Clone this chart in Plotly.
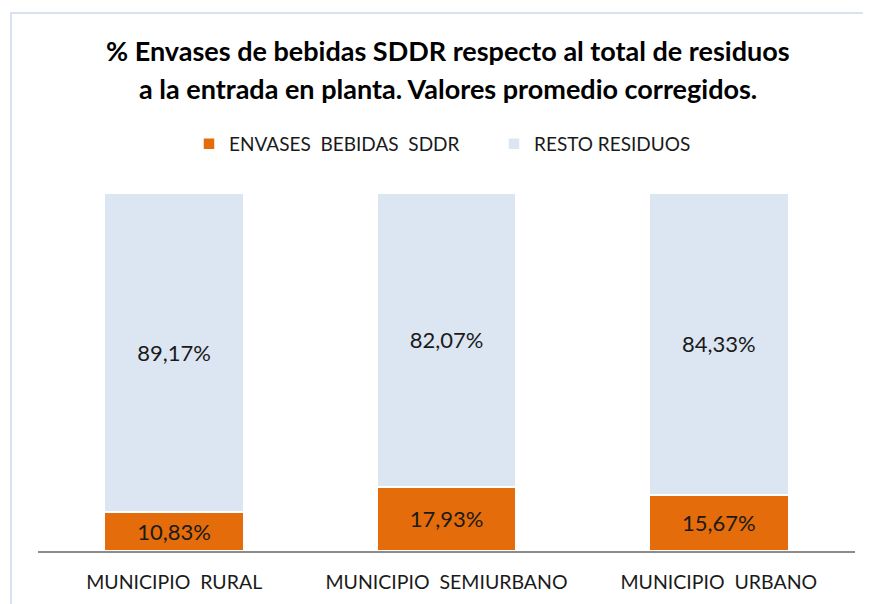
import plotly.graph_objects as go

categories = ["MUNICIPIO  RURAL", "MUNICIPIO  SEMIURBANO", "MUNICIPIO  URBANO"]
envases = [10.83, 17.93, 15.67]
resto = [89.17, 82.07, 84.33]
series_names = ["ENVASES  BEBIDAS  SDDR", "RESTO RESIDUOS"]
title_lines = ["% Envases de bebidas SDDR respecto al total de residuos",
               "a la entrada en planta. Valores promedio corregidos."]

W, H = 871, 604
OFF = 8  # page body offset
# target screen positions of the plot area
SL, SR, ST, SB = 38, 855, 193, 551
L, T = SL - OFF, ST - OFF
R = W - (SR - OFF)
B = H - (SB - OFF)
pw, ph = W - L - R, H - T - B

def px(x):
    return (x - OFF - L) / pw

def py(y):
    return (H - B - (y - OFF)) / ph

FONT = "Lato"

fig = go.Figure()
fig.add_trace(go.Bar(x=categories, y=envases, name=series_names[0],
                     marker=dict(color="#E46C0A", line=dict(color="white", width=1.5)),
                     texttemplate="%{y:.2f}%", textposition="inside", insidetextanchor="middle",
                     textfont=dict(family=FONT, size=22, color="#1a1a1a")))
fig.add_trace(go.Bar(x=categories, y=resto, name=series_names[1],
                     marker=dict(color="#DCE6F2", line=dict(color="white", width=1.5)),
                     texttemplate="%{y:.2f}%", textposition="inside", insidetextanchor="middle",
                     textfont=dict(family=FONT, size=22, color="#1a1a1a")))

fig.update_layout(
    width=W, height=H,
    margin=dict(l=L, r=R, t=T, b=B),
    barmode="stack", bargap=0.49,
    separators=",.",
    paper_bgcolor="white", plot_bgcolor="white",
    font=dict(family=FONT, color="#1a1a1a"),
    showlegend=True,
    legend=dict(orientation="h", x=px(494), xanchor="center", y=py(144), yanchor="middle",
                font=dict(family=FONT, size=19, color="#1a1a1a"), itemwidth=30,
                entrywidth=260, traceorder="normal"),
    xaxis=dict(showline=True, linecolor="#8c8c8c", linewidth=2, ticks="outside",
               ticklen=13, tickcolor="rgba(0,0,0,0)",
               tickfont=dict(family=FONT, size=19.5, color="#1a1a1a"), showgrid=False),
    yaxis=dict(range=[0, 100], visible=False, showgrid=False),
)

for i, (line, yy) in enumerate(zip(title_lines, [50, 88])):
    fig.add_annotation(text="<b>" + line + "</b>", xref="paper", yref="paper",
                       x=px(448), y=py(yy), xanchor="center", yanchor="middle",
                       showarrow=False, font=dict(family=FONT, size=27, color="black"))

fig.add_shape(type="rect", xref="paper", yref="paper",
              x0=px(11), x1=px(900), y0=py(640), y1=py(13),
              line=dict(color="#D9E2F0", width=2), fillcolor="rgba(0,0,0,0)", layer="below")

fig.write_html("out.html")
